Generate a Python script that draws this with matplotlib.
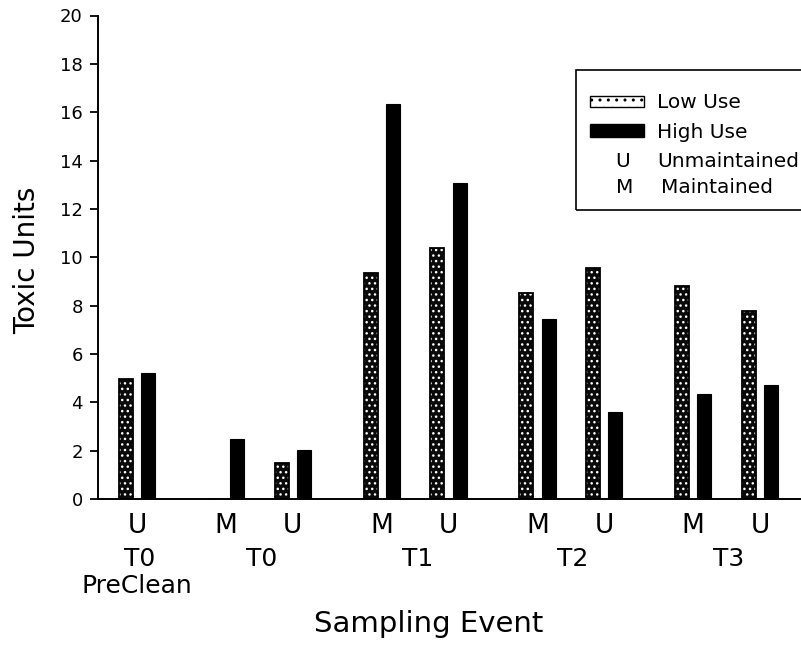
import matplotlib
matplotlib.use("Agg")
import matplotlib.pyplot as plt
from matplotlib.patches import Rectangle
import numpy as np

plt.rcParams["font.family"] = ["DejaVu Sans"]

# Sampling events (period, condition) and toxic units per use class
periods = ["T0\nPreClean", "T0", "T0", "T1", "T1", "T2", "T2", "T3", "T3"]
conditions = ["U", "M", "U", "M", "U", "M", "U", "M", "U"]
low_use = [4.95, 0.0, 1.49, 9.33, 10.4, 8.54, 9.57, 8.83, 7.78]
high_use = [5.23, 2.47, 2.04, 16.35, 13.07, 7.44, 3.58, 4.33, 4.71]
y_ticks = [0, 2, 4, 6, 8, 10, 12, 14, 16, 18, 20]

W, H = 801, 646
fig = plt.figure(figsize=(W / 100, H / 100), dpi=100)
ax = fig.add_axes([98 / W, 1 - 499 / H, (W - 98) / W, (499 - 15.5) / H])

# x positions: pairs within a period sit closer than pairs across periods
x = [0.0]
for i in range(1, len(periods)):
    same = periods[i] == periods[i - 1]
    x.append(x[-1] + (3 if same else 4))
x = np.array(x)

off, bw = 0.5, 0.63
low_x = x - off
high_x = x + off

# Low use: dark stippled fill with black outline
ax.bar(low_x, low_use, width=bw, color="#0a0a0a", edgecolor="white",
       hatch="...", linewidth=0, zorder=2)
ax.bar(low_x, low_use, width=bw, fill=False, edgecolor="black",
       linewidth=1.3, zorder=3)
# High use: solid black
ax.bar(high_x, high_use, width=bw, color="black", edgecolor="black",
       linewidth=0.8, zorder=3)

ax.set_xlim(-1.75, 29.84)
ax.set_ylim(0, 20)
ax.set_yticks(y_ticks)
ax.tick_params(axis="y", direction="out", length=6, width=1.3,
               pad=5, labelsize=13)
ax.set_xticks([])
for s in ["top", "right"]:
    ax.spines[s].set_visible(False)
ax.spines["left"].set_linewidth(1.4)
ax.spines["bottom"].set_linewidth(1.4)

# pixel rows below the axis, converted to axes fractions
ah = 499 - 15.5


def below(py):
    return -(py - 499) / ah


xt = ax.get_xaxis_transform()
for xi, c in zip(x, conditions):
    ax.text(xi, below(533), c, transform=xt, ha="center", va="baseline",
            fontsize=19)

# period labels centered under their pairs
groups = []
for i, p in enumerate(periods):
    if groups and groups[-1][0] == p:
        groups[-1][1].append(x[i])
    else:
        groups.append((p, [x[i]]))
for p, xs in groups:
    xc = np.mean(xs)
    name = p.split("\n")
    ax.text(xc + 0.1, below(566.5), name[0], transform=xt, ha="center",
            va="baseline", fontsize=18)
    if len(name) > 1:
        ax.text(xc, below(593), name[1], transform=xt, ha="center",
                va="baseline", fontsize=18)

ax.text((429 - 98) / (W - 98), below(632), "Sampling Event", transform=ax.transAxes,
        ha="center", va="baseline", fontsize=21)
ax.text((27 - 98) / (W - 98), (499 - 260) / ah, "Toxic Units", transform=ax.transAxes,
        ha="center", va="center", rotation=90, fontsize=20)


# legend box, drawn in pixel positions on the figure
def fx(px):
    return px / W


def fy(py):
    return 1 - py / H


tf = fig.transFigure
lfs = 14.5
fig.add_artist(Rectangle((fx(576), fy(210)), fx(830) - fx(576), fy(70) - fy(210),
                         transform=tf, fill=False, edgecolor="black", linewidth=1.2))
fig.add_artist(Rectangle((fx(590), fy(107)), fx(644) - fx(590), fy(96) - fy(107),
                         transform=tf, facecolor="white", edgecolor="black",
                         hatch="..", linewidth=1.0))
fig.add_artist(Rectangle((fx(590), fy(137)), fx(644) - fx(590), fy(124) - fy(137),
                         transform=tf, facecolor="black", edgecolor="black",
                         linewidth=1.0))
fig.text(fx(657), fy(108), "Low Use", transform=tf, va="baseline", ha="left", fontsize=lfs)
fig.text(fx(657), fy(138), "High Use", transform=tf, va="baseline", ha="left", fontsize=lfs)
fig.text(fx(623), fy(167), "U", transform=tf, va="baseline", ha="center", fontsize=lfs)
fig.text(fx(657), fy(167), "Unmaintained", transform=tf, va="baseline", ha="left", fontsize=lfs)
fig.text(fx(624.5), fy(193), "M", transform=tf, va="baseline", ha="center", fontsize=lfs)
fig.text(fx(661), fy(193), "Maintained", transform=tf, va="baseline", ha="left", fontsize=lfs)

fig.savefig("out.png", dpi=100)
